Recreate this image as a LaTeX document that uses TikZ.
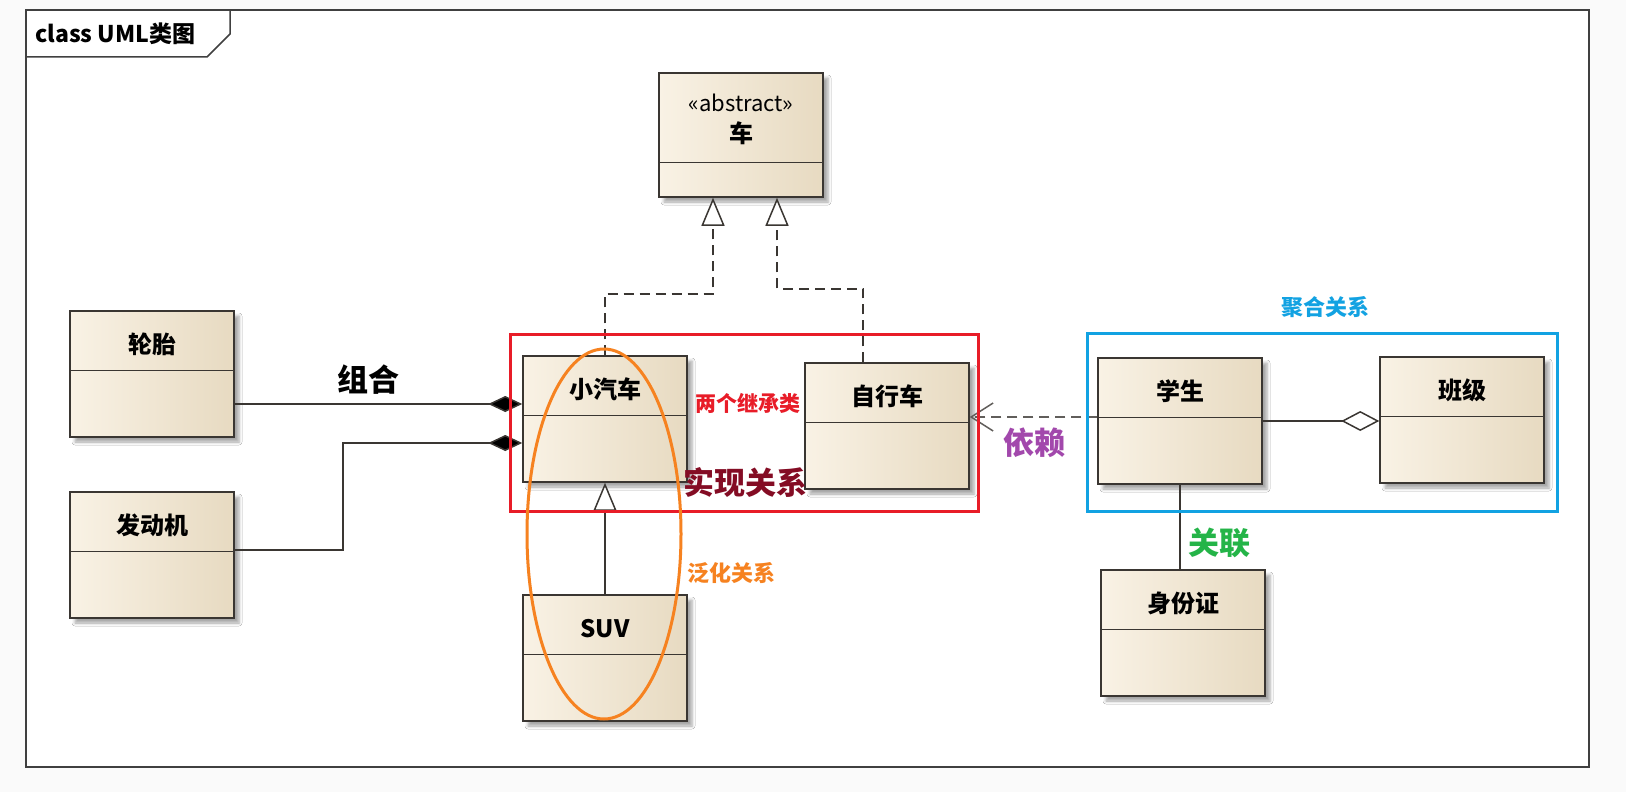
\documentclass[tikz,border=0pt]{standalone}
\usepackage{fontspec}
\setmainfont{Noto Sans CJK SC}
\usepackage{tikz}
\usetikzlibrary{calc,positioning,arrows.meta,shadows.blur}
\usepackage{xcolor}
\definecolor{clsleft}{RGB}{249,242,229}
\definecolor{clsright}{RGB}{231,218,193}
\definecolor{clsline}{RGB}{58,54,50}
\definecolor{myred}{RGB}{232,28,40}
\definecolor{mydarkred}{RGB}{132,12,36}
\definecolor{myorange}{RGB}{246,130,32}
\definecolor{myblue}{RGB}{18,162,226}
\definecolor{mypurple}{RGB}{162,72,172}
\definecolor{mygreen}{RGB}{36,180,72}

\begin{document}
\begin{tikzpicture}[x=1pt, y=-1pt, >=Stealth,
  cls/.style={draw=clsline, line width=1.5pt, left color=clsleft, right color=clsright,
    minimum width=164pt, minimum height=126pt, inner sep=0pt,
    blur shadow={shadow xshift=5pt, shadow yshift=-5pt, shadow blur radius=3pt, shadow opacity=35}},
  clsname/.style={font={\fontsize{24}{26}\selectfont\bfseries}, inner sep=0pt},
  divider/.style={clsline, line width=1.5pt},
  link/.style={draw=clsline, line width=1.5pt},
  comp/.style={link, -{Diamond[length=34pt,width=16pt,fill=black]}},
  gen/.style={link, -{Triangle[open,length=28pt,width=23pt,fill=white]}},
  realize/.style={gen, dash pattern=on 10pt off 6pt},
  depend/.style={link, draw=clsline!80, dash pattern=on 10pt off 6pt, -{Straight Barb[length=22pt,width=28pt]}},
  aggr/.style={link, -{Diamond[open,length=38pt,width=20pt,fill=white]}},
  frame/.style={draw=black!75, line width=2pt},
  note/.style={font={\fontsize{22}{24}\selectfont\bfseries}, inner sep=0pt},
  bignote/.style={font={\fontsize{31}{33}\selectfont\bfseries}, inner sep=0pt}]
  \useasboundingbox (0,0) rectangle (1626,792);
  \fill[black!2] (0,0) rectangle (1626,792);
  % frame
  \fill[white] (26,10) rectangle (1589,767);
  \draw[frame] (26,10) rectangle (1589,767);
  \draw[frame, line width=1.5pt] (26,57) -- (207,57) -- (230,34) -- (230,10);
  \node[anchor=west, font={\fontsize{23}{25}\selectfont\bfseries}, inner sep=0pt] (title) at (35,34) {class UML类图};

  % classes
  \node[cls, minimum height=124pt] (vehicle) at (741,135) {};
  \node[cls] (tire) at (152,374) {};
  \node[cls] (engine) at (152,555) {};
  \node[cls] (car) at (605,419) {};
  \node[cls] (bike) at (887,426) {};
  \node[cls] (suv) at (605,658) {};
  \node[cls] (student) at (1180,421) {};
  \node[cls] (klass) at (1462,420) {};
  \node[cls] (idcard) at (1183,633) {};

  \node[font={\fontsize{22}{24}\selectfont}, inner sep=0pt] (vehicle-s) at ($(vehicle.north)+(0,31)$) {«abstract»};
  \node[clsname] (vehicle-t) at ($(vehicle.north)+(0,61)$) {车};
  \draw[divider] ($(vehicle.north west)+(0,90)$) -- ($(vehicle.north east)+(0,90)$);
  \foreach \n/\t in {tire/轮胎, engine/发动机, car/小汽车, bike/自行车, suv/SUV,
                     student/学生, klass/班级, idcard/身份证} {
    \node[clsname] (\n-t) at ($(\n.north)+(0,34)$) {\t};
    \draw[divider] ($(\n.north west)+(0,60)$) -- ($(\n.north east)+(0,60)$);
  }

  % arrows
  \draw[comp] ($(tire.east)+(0,30)$) coordinate (c1) -- (car.west |- c1);
  \draw[comp] ($(engine.east)+(0,-5)$) -- ++(108,0) |- ($(car.west)+(0,24)$);
  \coordinate (r1) at ($(vehicle.south)+(-28,0)$);
  \coordinate (r2) at ($(vehicle.south)+(36,0)$);
  \draw[realize] (car.north) |- ($(r1)+(0,96)$) -- (r1);
  \draw[realize] ($(bike.north)+(-24,0)$) |- ($(r2)+(0,91)$) -- (r2);
  \draw[gen] (suv.north) -- (car.south);
  \draw[depend] ($(student.west)+(0,-4)$) coordinate (d1) -- (bike.east |- d1);
  \draw[aggr] (student.east) -- (klass.west |- student.east);
  \draw[link] (student.south) -- (student.south |- idcard.north);

  % highlights
  \draw[myred, line width=3pt] (510,334) rectangle (978,511);
  \draw[myblue, line width=3pt] (1087,333) rectangle (1557,511);
  \draw[myorange, line width=3pt] (604,534) ellipse [x radius=77pt, y radius=185pt];

  % labels
  \node[bignote] (l-comp) at (368,380) {组合};
  \node[note, font={\fontsize{21}{23}\selectfont\bfseries}, text=myred] (l-two) at (748,403) {两个继承类};
  \node[bignote, text=mydarkred] (l-real) at (745,482) {实现关系};
  \node[note, text=myorange] (l-gen) at (731,573) {泛化关系};
  \node[bignote, text=mypurple] (l-dep) at (1034,443) {依赖};
  \node[note, text=myblue] (l-aggr) at (1325,307) {聚合关系};
  \node[bignote, text=mygreen] (l-assoc) at (1219,543) {关联};
\end{tikzpicture}
\end{document}
